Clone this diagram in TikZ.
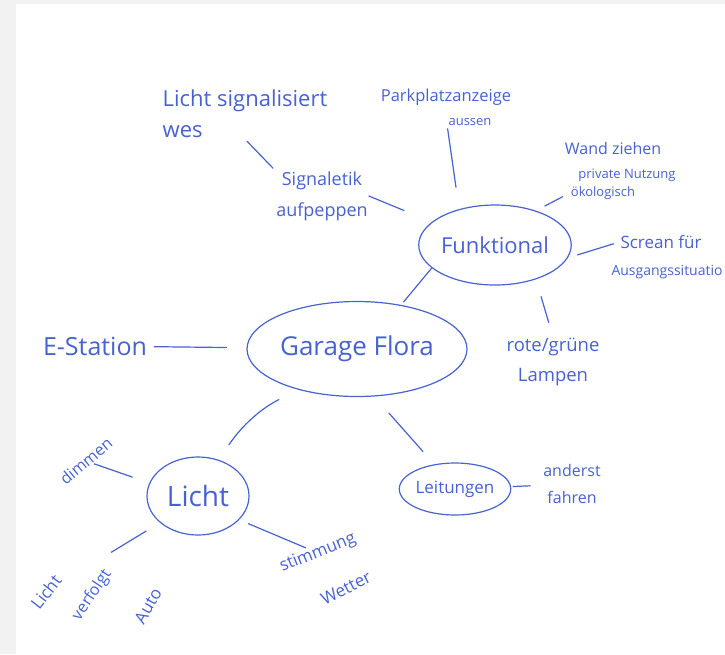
\documentclass[tikz,border=0pt]{standalone}
\usepackage{fontspec}
\setmainfont{Open Sans}
\usetikzlibrary{shapes.geometric}
\definecolor{inkBlue}{RGB}{72,98,210}
\definecolor{paperGrey}{RGB}{242,242,242}

\begin{document}
\begin{tikzpicture}[x=1pt,y=-1pt]

  \tikzstyle{hubNode} = [ellipse, draw=inkBlue, line width=1.2pt, text=inkBlue, inner sep=0pt];
  \tikzstyle{noteNode} = [text=inkBlue, inner sep=1pt];
  \tikzstyle{link} = [inkBlue, line width=1.2pt, line cap=round];

  % paper
  \fill[paperGrey] (0,0) rectangle (725,654);
  \fill[white] (16,4) rectangle (725,654);
  \useasboundingbox (0,0) rectangle (725,654);

  % centre and branches
  \node[hubNode, minimum width=220pt, minimum height=95pt, font=\fontsize{26}{30}\selectfont] (garage) at (357,349) {Garage Flora};
  \node[hubNode, minimum width=145pt, minimum height=80pt, font=\fontsize{22}{26}\selectfont] (funk) at (495,245) {Funktional};
  \node[hubNode, minimum width=102pt, minimum height=78pt, font=\fontsize{28}{32}\selectfont] (licht) at (198,496) {Licht};
  \node[hubNode, minimum width=90pt, minimum height=52pt, font=\fontsize{17}{20}\selectfont] (leit) at (455,489) {Leitungen};

  % notes
  \node[noteNode, align=left, font=\fontsize{22}{31}\selectfont] (lichtsig) at (245,114) {Licht signalisiert\\wes};
  \node[noteNode, align=center, font=\fontsize{18}{31}\selectfont] (signal) at (322,196) {Signaletik\\aufpeppen};
  \node[noteNode, font=\fontsize{16.5}{19}\selectfont] (park) at (446,97) {Parkplatzanzeige};
  \node[noteNode, font=\fontsize{13}{16}\selectfont] (parkb) at (470,122) {aussen};
  \node[noteNode, font=\fontsize{16}{19}\selectfont] (wand) at (613,148) {Wand ziehen};
  \node[noteNode, font=\fontsize{13}{16}\selectfont] (privat) at (627,175) {private Nutzung};
  \node[noteNode, font=\fontsize{13}{16}\selectfont] (oeko) at (603,193) {ökologisch};
  \node[noteNode, font=\fontsize{17}{20}\selectfont] (screan) at (661,242) {Screan für};
  \node[noteNode, font=\fontsize{14}{17}\selectfont] (ausgang) at (667,272) {Ausgangssituatio};
  \node[noteNode, align=center, font=\fontsize{18.5}{30}\selectfont] (rote) at (553,362) {rote/grüne\\Lampen};
  \node[noteNode, font=\fontsize{25}{29}\selectfont] (estation) at (95,346) {E-Station};
  \node[noteNode, align=center, font=\fontsize{16}{27}\selectfont] (anderst) at (572,484) {anderst\\fahren};
  \node[noteNode, rotate=40, font=\fontsize{16}{19}\selectfont] (dimmen) at (86,461) {dimmen};
  \node[noteNode, rotate=52, font=\fontsize{17}{20}\selectfont] (lichtw) at (46,592) {Licht};
  \node[noteNode, rotate=56, font=\fontsize{16}{19}\selectfont] (verf) at (92,595) {verfolgt};
  \node[noteNode, rotate=60, font=\fontsize{17}{20}\selectfont] (auto) at (148,606) {Auto};
  \node[noteNode, rotate=22, font=\fontsize{17}{20}\selectfont] (stimm) at (318,553) {stimmung};
  \node[noteNode, rotate=27, font=\fontsize{17}{20}\selectfont] (wetter) at (346,588) {Wetter};

  % strokes
  \draw[link, shorten <=3pt, shorten >=3pt] (lichtsig.south) -- (signal.north west);
  \draw[link, shorten >=30pt] (signal.east) -- (funk.160);
  \draw[link, shorten <=2pt, shorten >=22pt] (parkb.south west) -- (funk.135);
  \draw[link, shorten <=10pt, shorten >=8pt] (funk.40) -- (oeko.west);
  \draw[link, shorten <=10pt, shorten >=6pt] (funk.-10) -- (screan.west);
  \draw[link, shorten <=18pt, shorten >=15pt] (funk.-40) -- (rote.north);
  \draw[link, shorten >=4pt] (funk.200) -- (garage.45);
  \draw[link, shorten <=6pt, shorten >=20pt] (estation) -- (garage);
  \draw[link, shorten <=22pt, shorten >=18pt] (garage.215) to[bend right=15] (licht.60);
  \draw[link, shorten <=22pt, shorten >=17pt] (garage.-70) -- (leit.130);
  \draw[link, shorten <=2pt, shorten >=12pt] (leit) -- (anderst);
  \draw[link, shorten >=18pt] (dimmen) -- (licht.165);
  \draw[link, shorten <=55pt, shorten >=16pt] (lichtw) -- (licht.215);
  \draw[link, shorten <=10pt] (licht.-30) -- (stimm);

\end{tikzpicture}
\end{document}
